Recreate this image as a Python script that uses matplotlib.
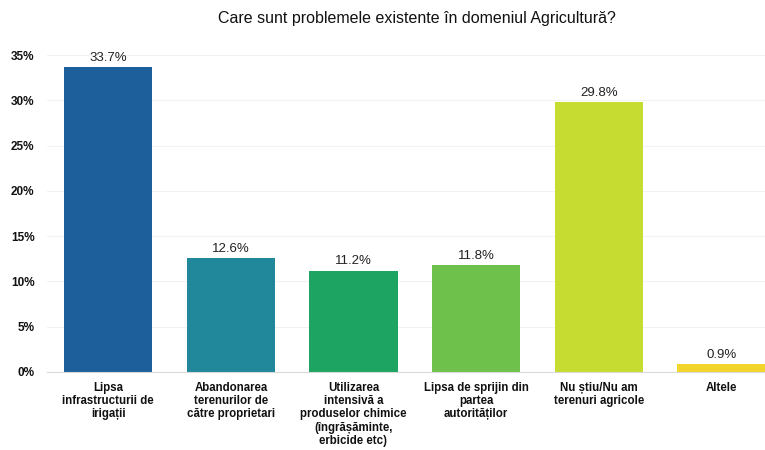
import matplotlib.pyplot as plt
from matplotlib.ticker import FuncFormatter

# survey answers and their shares (percent)
categories = [
    "Lipsa\ninfrastructurii de\nirigații",
    "Abandonarea\nterenurilor de\ncătre proprietari",
    "Utilizarea\nintensivă a\nproduselor chimice\n(îngrășăminte,\nerbicide etc)",
    "Lipsa de sprijin din\npartea\nautorităților",
    "Nu știu/Nu am\nterenuri agricole",
    "Altele",
]
values = [33.7, 12.6, 11.2, 11.8, 29.8, 0.9]
colors = ["#1c5f9b", "#21879b", "#1ea462", "#6ec14b", "#c6dc30", "#f2d52b"]
y_ticks = [0, 5, 10, 15, 20, 25, 30, 35]

plt.rcParams['font.family'] = ['Liberation Sans', 'DejaVu Sans']

fig = plt.figure(figsize=(7.65, 4.5), dpi=100)
ax = fig.add_axes([47 / 765, 78 / 450, 718 / 765, 317 / 450])

x = range(len(values))
bars = ax.bar(x, values, width=0.72, color=colors, zorder=2)

for b, v in zip(bars, values):
    ax.text(b.get_x() + b.get_width() / 2, v + 0.35, f"{v:.1f}%",
            ha='center', va='bottom', fontsize=9.5, color='#222222')

ax.set_xlim(-0.5, 5.357)
ax.set_ylim(0, 35)
ax.set_yticks(y_ticks)
ax.yaxis.set_major_formatter(FuncFormatter(lambda v, _: f"{v:.0f}%"))
ax.set_xticks(list(x))
ax.set_xticklabels(categories, fontsize=8.3, fontweight='bold', linespacing=1.15)
for lbl in ax.get_yticklabels():
    lbl.set_fontweight('bold')
    lbl.set_fontsize(8.5)

ax.tick_params(axis='both', length=0, colors='#111111')
ax.tick_params(axis='x', pad=7)
ax.tick_params(axis='y', pad=9)
ax.grid(axis='y', color='#f2f2f2', linewidth=0.8, zorder=0)
for s in ['top', 'right', 'left']:
    ax.spines[s].set_visible(False)
ax.spines['bottom'].set_color('#d9d9d9')

fig.text(417 / 765, 1 - 18 / 450, "Care sunt problemele existente în domeniul Agricultură?",
         ha='center', va='center', fontsize=11.5, color='#111111')

fig.savefig('out.png', dpi=100)
